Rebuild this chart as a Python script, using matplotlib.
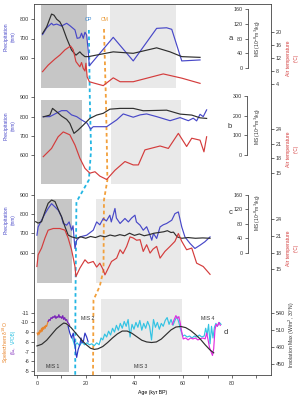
import matplotlib.pyplot as plt

plt.rcParams['font.family'] = ['Liberation Sans', 'DejaVu Sans']
plt.rcParams['axes.unicode_minus'] = False

# ---- panel a ----
a_p_age = [2.3, 4.0, 6.0, 6.7, 8.1, 10.1, 12.2, 13.5, 15.6, 16.5, 17.6, 18.3, 19.0, 19.7, 20.4, 20.8, 21.5,
           31.3, 39.5, 49.1, 53.2, 55.3, 59.4, 66.9]
a_p = [720, 755, 778, 769, 774, 764, 778, 766, 744, 701, 704, 727, 701, 732, 718, 667, 560,
       706, 585, 752, 755, 747, 585, 590]
a_ms_age = [2.3, 4.0, 6.0, 7.0, 8.1, 9.4, 10.5, 12.2, 14.2, 16.0, 17.6, 18.4, 19.7, 21.1, 31.3, 39.5, 49.1,
            54.6, 59.4, 66.9]
a_ms = [94, 112, 147, 144, 133, 126, 112, 81, 49, 35, 44, 38, 31, 31, 44, 40, 55, 44, 31, 29]
a_t_age = [2.3, 4.6, 7.4, 9.4, 11.5, 13.8, 14.9, 16.0, 17.6, 18.3, 19.0, 19.7, 20.1, 20.6, 21.5, 23.8, 27.2,
           31.3, 34.1, 39.5, 51.8, 59.4, 66.9]
a_t = [7.8, 9.8, 11.7, 12.9, 14.5, 15.7, 14.5, 10.9, 9.3, 10.6, 8.8, 8.0, 10.4, 6.2, 4.7, 4.2, 3.5,
       5.9, 4.7, 4.7, 7.1, 5.8, 4.2]

# ---- panel b ----
b_p_age = [2.6, 5.3, 8.0, 10.1, 12.2, 14.2, 16.3, 18.3, 20.6, 22.0, 23.1, 28.6, 32.7, 35.4, 39.5, 42.3, 45.0,
           49.1, 54.6, 58.7, 62.1, 64.1, 65.5, 66.9, 68.2, 69.6]
b_p = [800, 800, 818, 831, 831, 809, 800, 783, 766, 735, 748, 748, 783, 814, 797, 809, 814,
       800, 779, 795, 779, 792, 778, 812, 800, 835]
b_ms_age = [2.6, 5.3, 6.4, 8.1, 10.1, 12.2, 13.5, 15.2, 16.9, 19.0, 21.7, 24.5, 27.2, 29.9, 34.1, 39.5, 43.6,
            53.2, 58.7, 63.5, 66.9, 69.6]
b_ms = [194, 203, 237, 220, 198, 181, 161, 110, 127, 152, 186, 203, 212, 233, 237, 237, 225,
        228, 208, 203, 189, 186]
b_t_age = [2.6, 6.0, 8.7, 10.8, 13.5, 15.6, 17.6, 19.7, 21.7, 23.8, 25.8, 28.6, 32.0, 36.1, 39.5, 41.6, 44.3,
           50.5, 53.9, 58.0, 61.4, 63.5, 66.9, 68.5, 69.6]
b_t = [18.3, 20.0, 22.4, 23.4, 22.8, 20.7, 18.0, 15.9, 14.9, 15.2, 14.3, 13.6, 15.5, 17.3, 16.6, 16.6, 19.7,
       20.5, 20.0, 23.1, 20.4, 22.1, 21.7, 19.3, 22.4]

# ---- panel c ----
c_p_age = [0, 0.5, 1.9, 3.3, 4.6, 6.0, 7.4, 8.8, 10.1, 10.8, 12.2, 13.2, 14.2, 14.8, 15.6, 16.3, 17.6, 20.4,
           23.1, 24.5, 25.8, 27.2, 28.5, 29.9, 30.5, 32.0, 32.6, 34.1, 36.1, 37.5, 38.8, 40.2, 40.8, 42.3,
           43.6, 45.0, 46.4, 47.1, 47.8, 49.1, 50.5, 51.8, 53.2, 55.3, 56.6, 58.0, 59.4, 60.7, 62.8, 64.8,
           66.9, 68.9, 71.0]
c_p = [691, 734, 769, 803, 830, 855, 838, 820, 786, 752, 743, 760, 717, 740, 622, 665, 682, 691,
       717, 760, 745, 778, 765, 795, 760, 830, 780, 752, 778, 760, 780, 795, 760, 743,
       717, 735, 691, 665, 700, 674, 734, 745, 752, 769, 803, 812, 734, 682, 648, 622,
       639, 657, 682]
c_ms_age = [-0.5, 0.5, 1.9, 3.3, 4.6, 6.0, 7.4, 8.8, 10.1, 11.5, 12.8, 14.2, 16.3, 18, 20, 22, 24, 26, 28, 30,
            32, 34, 36, 38, 40, 42, 44, 46, 48, 50, 52, 53.5, 55, 56, 57.5, 59.4, 62, 65, 68, 71]
c_ms = [86, 82, 86, 114, 137, 146, 142, 119, 100, 72, 49, 44, 40, 44, 40, 45, 42, 47, 44, 49,
        46, 50, 47, 54, 48, 52, 47, 50, 54, 56, 58, 61, 56, 57, 44, 40, 42, 40, 41, 40]
c_t_age = [0, 0.5, 1.9, 3.3, 4.6, 6.7, 9.4, 11.5, 12.8, 14.2, 15.6, 16.0, 17.6, 19.7, 21.0, 23.1, 24.5, 25.8,
           27.2, 27.9, 30.6, 32.7, 34.1, 35.3, 36.8, 38.2, 39.5, 40.9, 42.3, 43.6, 45.0, 46.4, 47.6, 49.1,
           50.5, 52.5, 54.6, 56.6, 58.0, 59.4, 61.4, 63.5, 65.5, 68.2, 71.0]
c_t = [15.5, 17.6, 18.8, 20.6, 22.0, 22.3, 22.3, 22.0, 20.6, 18.5, 15.5, 13.7, 15.2, 16.7, 16.1, 16.4, 15.4,
       16.1, 14.9, 14.0, 16.4, 17.0, 18.5, 17.8, 19.1, 20.8, 20.6, 20.2, 20.3, 18.2, 19.4, 17.9, 18.6, 19.1,
       17.0, 18.2, 19.1, 20.0, 21.4, 20.0, 18.5, 18.8, 16.1, 15.5, 14.1]

# ---- panel d: speleothem d18O and insolation ----
orange_age = [0.1, 0.4, 0.7, 1.0, 1.3, 1.6, 1.9, 2.2, 2.5, 2.8, 3.1, 3.4, 3.7, 4.0, 4.3, 4.6]
orange_d18o = [-8.9, -8.7, -9.0, -8.8, -9.2, -9.0, -9.4, -9.1, -9.5, -9.3, -9.6, -9.4, -9.7, -9.6, -9.9, -10.1]
purple_age = [4.6, 5.0, 5.4, 5.8, 6.2, 6.6, 7.0, 7.4, 7.8, 8.2, 8.6, 9.0, 9.4, 9.8, 10.2, 10.6, 11.0, 11.4,
              11.8, 12.2, 12.6, 13.0, 13.4]
purple_d18o = [-10.1, -10.3, -10.2, -10.5, -10.4, -10.6, -10.5, -10.7, -10.4, -10.6, -10.5, -10.8, -10.5,
               -10.6, -10.4, -10.7, -10.3, -10.5, -10.2, -10.3, -10.0, -9.9, -9.7]
navy_age = [12.8, 13.5, 14.2, 14.9, 15.6, 16.0, 16.3, 16.9, 17.6, 18.1, 18.5, 19.0, 19.7, 20.4, 21.0]
navy_d18o = [-9.6, -8.9, -8.4, -8.9, -7.7, -6.8, -6.4, -7.2, -7.7, -8.4, -7.9, -8.0, -8.9, -8.5, -8.0]
cyan_age = [14.5, 15.5, 16.5, 17.5, 18.5, 19.5, 20.5, 21.5, 22.5, 23.5,
            24.5, 25.5, 26.3, 27.0, 27.8, 28.6, 29.4, 30.2, 31.0, 31.8,
            32.6, 33.4, 34.2, 35.0, 35.8, 36.6, 37.4, 38.2, 39.0, 39.8,
            40.6, 41.4, 42.2, 43.0, 43.8, 44.6, 45.4, 46.2, 47.0, 47.8,
            48.6, 49.4, 50.2, 51.0, 51.8, 52.6, 53.4, 54.2, 55.0, 55.8,
            56.6, 57.4, 58.2, 59.0, 59.8, 60.6, 61.6, 62.6, 63.6, 64.6,
            65.6, 66.6, 67.6, 68.6, 69.2, 69.8, 70.4, 71.0, 71.6, 72.2,
            72.8, 73.4, 74.0, 74.8, 75.5]
cyan_d18o = [-8.4, -7.6, -7.9, -7.6, -8.0, -7.7, -7.9, -7.7, -7.8, -7.6,
             -7.9, -7.7, -8.4, -8.2, -8.8, -8.5, -9.1, -8.7, -9.4, -9.0,
             -9.7, -9.2, -9.9, -9.4, -10.1, -9.6, -10.3, -8.5, -9.8, -9.3,
             -10.0, -9.5, -10.2, -9.2, -9.9, -9.4, -10.1, -9.6, -8.2, -10.3,
             -9.5, -10.0, -9.3, -9.9, -9.6, -10.2, -10.5, -9.8, -10.3, -9.7,
             -10.2, -10.6, -10.0, -9.2, -8.6, -8.7, -8.5, -8.6, -8.4, -8.6,
             -8.5, -8.7, -8.5, -8.6, -9.4, -8.7, -9.8, -7.8, -9.6, -8.4,
             -9.5, -9.9, -9.6, -10.0, -9.8]
magenta_age = [55.5, 56.3, 57.0, 57.6, 58.2, 58.8, 59.4, 60.0, 61.0, 62.0, 63.0, 64.0, 65.0, 66.0, 67.0, 68.0,
               69.0, 69.6, 70.2, 70.8, 71.4, 72.0, 72.5, 73.0, 73.5, 74.0, 74.6, 75.2]
magenta_d18o = [-9.8, -10.3, -10.7, -10.4, -10.6, -9.9, -9.0, -8.3, -8.4, -8.2, -8.4, -8.3, -8.4, -8.2, -8.3,
                -8.4, -8.3, -8.9, -8.2, -7.4, -7.0, -6.6, -7.3, -9.2, -9.8, -9.6, -10.0, -9.7]
ins_age = [0, 2, 4, 6, 8, 10, 11, 12, 14, 16, 18, 20, 22, 23.5, 25, 27, 29, 31, 33, 35, 37, 39, 41, 43, 45,
           47, 49, 51, 53, 55, 57, 59, 61, 63, 65, 67, 69, 71, 72.5]
ins = [482, 485, 492, 502, 512, 519, 522, 521, 514, 504, 494, 485, 478, 476, 477, 481, 488, 496, 503, 508,
       508, 504, 498, 492, 489, 488, 489, 494, 502, 510, 515, 516, 514, 509, 502, 494, 484, 475, 470]

# MIS shading per panel (age ranges): dark, light
shade_dark = [(1.6, 20.5), (1.6, 18.5), (0, 14.4), (0, 13.1)]
shade_light = [(30, 57), (30.4, 59.1), (24.2, 59.1), (26.3, 59.5)]
mis_labels = ['MIS 1', 'MIS 2', 'MIS 3', 'MIS 4']
mis_ages = [6.5, 21, 42.5, 70]

# --- layout (pixels) ---
W, H = 305, 399
X0, X1, TOP, BOT = 34, 271, 4, 375
XLIM = (-1.2, 96)
BLUE, RED, BLACK = '#4848c8', '#d43c3c', '#2e2e2e'
TS = 3.9   # tick labels
LS = 3.7   # axis labels

fig = plt.figure(figsize=(W / 100, H / 100), dpi=100)


def rect(top, bot):
    return [X0 / W, 1 - bot / H, (X1 - X0) / W, (bot - top) / H]


def calib(ax, v1, p1, v2, p2, top, bot):
    s = (v2 - v1) / (p2 - p1)
    ax.set_ylim(v1 + (bot - p1) * s, v1 + (top - p1) * s)


def clean(ax):
    ax.set_xlim(XLIM)
    ax.patch.set_visible(False)
    for s in ax.spines.values():
        s.set_visible(False)
    ax.xaxis.set_visible(False)
    ax.tick_params(axis='y', labelsize=TS, length=2, width=0.5, pad=1.5, colors='#333333')


def ftext(x, y, s, **kw):
    fig.text(x / W, 1 - y / H, s, ha='center', va='center', **kw)


# frame
frame = fig.add_axes(rect(TOP, BOT))
frame.set_xlim(XLIM)
frame.set_ylim(BOT, TOP)
frame.set_yticks([])
frame.set_xticks([0, 20, 40, 60, 80])
frame.set_xticks([10, 30, 50, 70, 90], minor=True)
frame.tick_params(axis='x', which='both', labelsize=TS, length=2, width=0.5, pad=2.5, colors='#333333')
for s in frame.spines.values():
    s.set_linewidth(0.6)
    s.set_color('#444444')
frame.set_xlabel('Age (kyr BP)', fontsize=LS, labelpad=3)

bands = [(5, 88), (100, 184), (199, 283), (299, 372)]
for (d0, d1), (l0, l1), (yt, yb) in zip(shade_dark, shade_light, bands):
    frame.fill_between([d0, d1], yt, yb, color='#c6c6c6', lw=0, zorder=0)
    frame.fill_between([l0, l1], yt, yb, color='#e9e9e9', lw=0, zorder=0)

# OP / CM dashed markers
op_age = [21.3, 21.7, 22.2, 21.3, 16.2, 15.8, 15.7]
op_px = [30, 100, 150, 180, 202, 300, 375]
cm_age = [27.5, 28.3, 28.7, 28.9, 27.5, 27.3, 25.8, 23.2, 23.0]
cm_px = [29, 100, 150, 180, 200, 270, 286, 300, 375]
frame.plot(op_age, op_px, color='#23b6e3', lw=1.3, ls=(0, (2, 1.6)), zorder=5)
frame.plot(cm_age, cm_px, color='#f2a03c', lw=1.3, ls=(0, (2, 1.6)), zorder=5)
ftext(88.5, 19.5, 'OP', fontsize=LS, color='#3a86d0')
ftext(104.5, 19.5, 'CM', fontsize=LS, color='#e8962e')


def climate_panel(top, bot, p_age, p, ms_age, ms, t_age, t, cal, ms_x, ms_max, ms_ticks, t_ticks, letter, lab_y):
    (pv1, pp1, pv2, pp2), (mv1, mp1, mv2, mp2), (tv1, tp1, tv2, tp2) = cal
    ax = fig.add_axes(rect(top, bot))
    clean(ax)
    calib(ax, pv1, pp1, pv2, pp2, top, bot)
    ax.set_yticks([600, 700, 800] if pv1 < 900 else [600, 700, 800, 900])
    ax.plot(p_age, p, color=BLUE, lw=0.85, clip_on=False)

    axm = ax.twinx()
    clean(axm)
    axm.spines['left'].set_visible(True)
    axm.spines['left'].set_position(('axes', (ms_x - X0) / (X1 - X0)))
    axm.spines['left'].set_bounds(0, ms_max)
    axm.spines['left'].set_linewidth(0.6)
    axm.spines['left'].set_color('#444444')
    axm.yaxis.tick_left()
    calib(axm, mv1, mp1, mv2, mp2, top, bot)
    axm.set_yticks(ms_ticks)
    axm.plot(ms_age, ms, color=BLACK, lw=0.85, clip_on=False)

    axt = ax.twinx()
    clean(axt)
    axt.yaxis.tick_right()
    calib(axt, tv1, tp1, tv2, tp2, top, bot)
    axt.set_yticks(t_ticks)
    axt.plot(t_age, t, color=RED, lw=0.85, clip_on=False)

    py, my, ty = lab_y
    ftext(6, py, 'Precipitation', fontsize=LS, color=BLUE, rotation=90)
    ftext(13, py, '(mm)', fontsize=LS - 0.4, color=BLUE, rotation=90)
    ftext(258, my, 'MS (10$^{-8}$m$^3$/kg)', fontsize=LS - 0.2, color=BLACK, rotation=90)
    ftext(288.5, ty, 'Air temperature', fontsize=LS, color=RED, rotation=90)
    ftext(296, ty, '(\u00b0C)', fontsize=LS - 0.4, color=RED, rotation=90)
    ftext(ms_x - 17, my, letter, fontsize=5.5, color='#333333')


climate_panel(4, 90, a_p_age, a_p, a_ms_age, a_ms, a_t_age, a_t,
              ((800, 19, 600, 58), (160, 9.3, 0, 68), (20, 32, 4, 84)),
              248, 160, [0, 40, 80, 120, 160], [4, 8, 12, 16, 20], 'a', (37, 38, 58))
climate_panel(92, 186, b_p_age, b_p, b_ms_age, b_ms, b_t_age, b_t,
              ((900, 97.3, 600, 155.3), (300, 96, 0, 155), (24, 129, 15, 172.7)),
              247, 300, [0, 100, 200, 300], [15, 18, 21, 24], 'b', (126, 126, 149))
climate_panel(190, 285, c_p_age, c_p, c_ms_age, c_ms, c_t_age, c_t,
              ((900, 195, 600, 252.7), (160, 195, 0, 252.7), (24, 219, 15, 269.3)),
              248, 160, [0, 40, 80, 120, 160], [15, 18, 21, 24], 'c', (220, 212, 248))

# panel d
top, bot = 297, 375
axd = fig.add_axes(rect(top, bot))
clean(axd)
calib(axd, -11, 312.7, -5, 371, top, bot)
axd.set_yticks([-11, -10, -9, -8, -7, -6, -5])
axd.plot(cyan_age, cyan_d18o, color='#33c3e3', lw=0.85, clip_on=False)
axd.plot(magenta_age, magenta_d18o, color='#e02ee0', lw=0.85, clip_on=False)
axd.plot(orange_age, orange_d18o, color='#e8842a', lw=0.85, clip_on=False)
axd.plot(purple_age, purple_d18o, color='#7a22b8', lw=0.85, clip_on=False)
axd.plot(navy_age, navy_d18o, color='#2c34c4', lw=0.85, clip_on=False)

axi = axd.twinx()
clean(axi)
axi.yaxis.tick_right()
calib(axi, 540, 312.7, 450, 364.3, top, bot)
axi.set_yticks([450, 480, 510, 540])
axi.plot(ins_age, ins, color=BLACK, lw=0.85, clip_on=False)

for lab, age, y in zip(mis_labels, mis_ages, [366, 318, 366, 318]):
    axd.text(age, 1 - (y - top) / (bot - top), lab, fontsize=LS, color='#333333', ha='center', va='center',
             transform=axd.get_xaxis_transform())

ftext(226, 332, 'd', fontsize=5.5, color='#333333')
ftext(6, 342, 'Speleothem \u03b4$^{18}$O', fontsize=LS, color='#e8842a', rotation=90)
ftext(13, 350, '(\u2030,', fontsize=LS - 0.3, color='#7a22b8', rotation=90)
ftext(13, 337, 'VPDB)', fontsize=LS - 0.3, color='#33c3e3', rotation=90)
ftext(292, 335, 'Insolation Max (W/m$^2$, 30\u00b0N)', fontsize=LS, color='#333333', rotation=90)

fig.savefig('out.png', dpi=100)
